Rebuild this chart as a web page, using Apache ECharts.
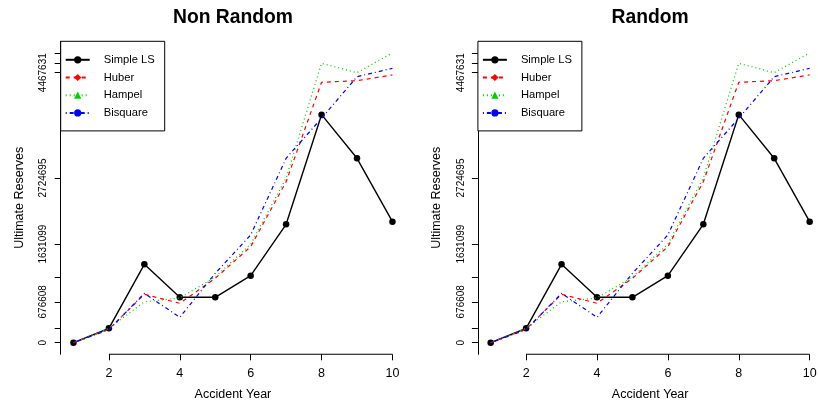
<!DOCTYPE html>
<html><head><meta charset="utf-8">
<script src="https://cdn.jsdelivr.net/npm/echarts@6/dist/echarts.min.js"></script>
<style>html,body{margin:0;padding:0;background:#fff}#c{width:818px;height:403px}</style>
</head><body><div id="c"></div>
<script>
// ---- data ----
const years = [1, 2, 3, 4, 5, 6, 7, 8, 9, 10];
const simpleLS = [0, 238000, 1297000, 751000, 751000, 1109000, 1959000, 3773000, 3051000, 2002000];
const huber    = [0, 225000, 801000, 652000, 1066000, 1589000, 2664000, 4309000, 4335000, 4430000];
const hampel   = [0, 238000, 676608, 740000, 1087000, 1631099, 2724695, 4623000, 4467631, 4795000];
const bisquare = [0, 215000, 817000, 420000, 1148000, 1782000, 3051000, 3713000, 4401000, 4540000];
const seriesNames = ['Simple LS', 'Huber', 'Hampel', 'Bisquare'];
const panelTitles = ['Non Random', 'Random'];
const xTicks = [2, 4, 6, 8, 10];
const yTicks = [0, 238000, 676608, 1087000, 1631099, 2724695, 4467631, 4623000, 4795000];
const yLabels = [0, 676608, 1631099, 2724695, 4467631];

// ---- layout / style ----
const FONT = '"Liberation Sans", Arial, Helvetica, sans-serif';
const allVals = [].concat(simpleLS, huber, hampel, bisquare);
const dMax = Math.max.apply(null, allVals), dMin = Math.min.apply(null, allVals);
const yPad = 0.04 * (dMax - dMin);
const yMin = dMin - yPad, yMax = dMax + yPad;
const xPad = 0.04 * (years[years.length - 1] - years[0]);
const xMin = years[0] - xPad, xMax = years[years.length - 1] + xPad;

const panels = [{ left: 60.7, width: 344.5 }, { left: 477.9, width: 344.5 }];
const gridTop = 41.3, gridHeight = 313;

const styles = [
  { color: '#000000', type: 'solid', width: 1.4, symbol: 'circle' },
  { color: '#ff0000', type: [4, 4], width: 1.2, symbol: 'diamond' },
  { color: '#00d000', type: [1, 3], width: 1.3, symbol: 'triangle' },
  { color: '#0000ff', type: [1, 3, 4, 3], width: 1.2, symbol: 'circle' }
];
const values = [simpleLS, huber, hampel, bisquare];

const grids = [], xAxes = [], yAxes = [], series = [], titles = [], legends = [];
panels.forEach(function (p, i) {
  grids.push({ left: p.left, top: gridTop, width: p.width, height: gridHeight, containLabel: false, outerBoundsMode: 'none' });
  xAxes.push({
    type: 'value', gridIndex: i, min: xMin, max: xMax,
    name: 'Accident Year', nameLocation: 'middle', nameGap: 34,
    nameTextStyle: { fontFamily: FONT, fontSize: 12.5, color: '#000' },
    axisLine: { show: false, onZero: false }, splitLine: { show: false },
    axisTick: { show: true, inside: false, length: 6, customValues: xTicks, lineStyle: { color: '#000', width: 1 } },
    axisLabel: { customValues: xTicks, fontFamily: FONT, fontSize: 12.5, color: '#000', margin: 13 }
  });
  yAxes.push({
    type: 'value', gridIndex: i, min: yMin, max: yMax,
    name: 'Ultimate Reserves', nameLocation: 'middle', nameGap: 35, nameRotate: 90,
    nameTextStyle: { fontFamily: FONT, fontSize: 12.5, color: '#000' },
    axisLine: { show: true, onZero: false, lineStyle: { color: '#000', width: 1 } }, splitLine: { show: false },
    axisTick: { show: true, inside: false, length: 6, customValues: yTicks, lineStyle: { color: '#000', width: 1 } },
    axisLabel: { customValues: yLabels, rotate: 90, fontFamily: FONT, fontSize: 10, color: '#000', margin: 12,
      formatter: function (v) { return String(v); } }
  });
  titles.push({
    text: panelTitles[i], left: p.left + p.width / 2, textAlign: 'center', top: 8.5, padding: 0,
    textStyle: { fontFamily: FONT, fontSize: 19.3, fontWeight: 'bold', color: '#000' }
  });
  legends.push({
    orient: 'vertical', left: p.left, top: gridTop, padding: [13, 10, 12.5, 4],
    itemWidth: 24, itemHeight: 9, itemGap: 6.7, z: 10,
    borderColor: '#000', borderWidth: 1, borderRadius: 0, backgroundColor: '#fff',
    selectedMode: false,
    textStyle: { fontFamily: FONT, fontSize: 11.2, color: '#000', padding: [0, 0, 0, 9] },
    data: seriesNames
  });
  values.forEach(function (vals, k) {
    const s = styles[k];
    series.push({
      name: seriesNames[k], type: 'line', xAxisIndex: i, yAxisIndex: i,
      data: years.map(function (y, j) { return [y, vals[j]]; }),
      symbol: s.symbol, symbolSize: k === 0 ? 6.5 : 5, showSymbol: k === 0,
      itemStyle: { color: s.color },
      lineStyle: { color: s.color, type: s.type, width: s.width },
      animation: false, silent: true, z: 2 + k, clip: false
    });
  });
});

const chart = echarts.init(document.getElementById('c'), null, { renderer: 'canvas' });
chart.setOption({
  backgroundColor: '#fff', animation: false,
  title: titles, legend: legends, grid: grids, xAxis: xAxes, yAxis: yAxes, series: series
});

// R-style x axis line spanning first to last tick, positioned through the chart's own scales
const axisLines = [];
panels.forEach(function (p, i) {
  const a = chart.convertToPixel({ gridIndex: i }, [xTicks[0], yMin]);
  const b = chart.convertToPixel({ gridIndex: i }, [xTicks[xTicks.length - 1], yMin]);
  axisLines.push({ type: 'rect', z: 50, silent: true,
    shape: { x: a[0], y: a[1] - 0.5, width: b[0] - a[0], height: 1 }, style: { fill: '#000' } });
});
chart.setOption({ graphic: axisLines });
</script></body></html>
